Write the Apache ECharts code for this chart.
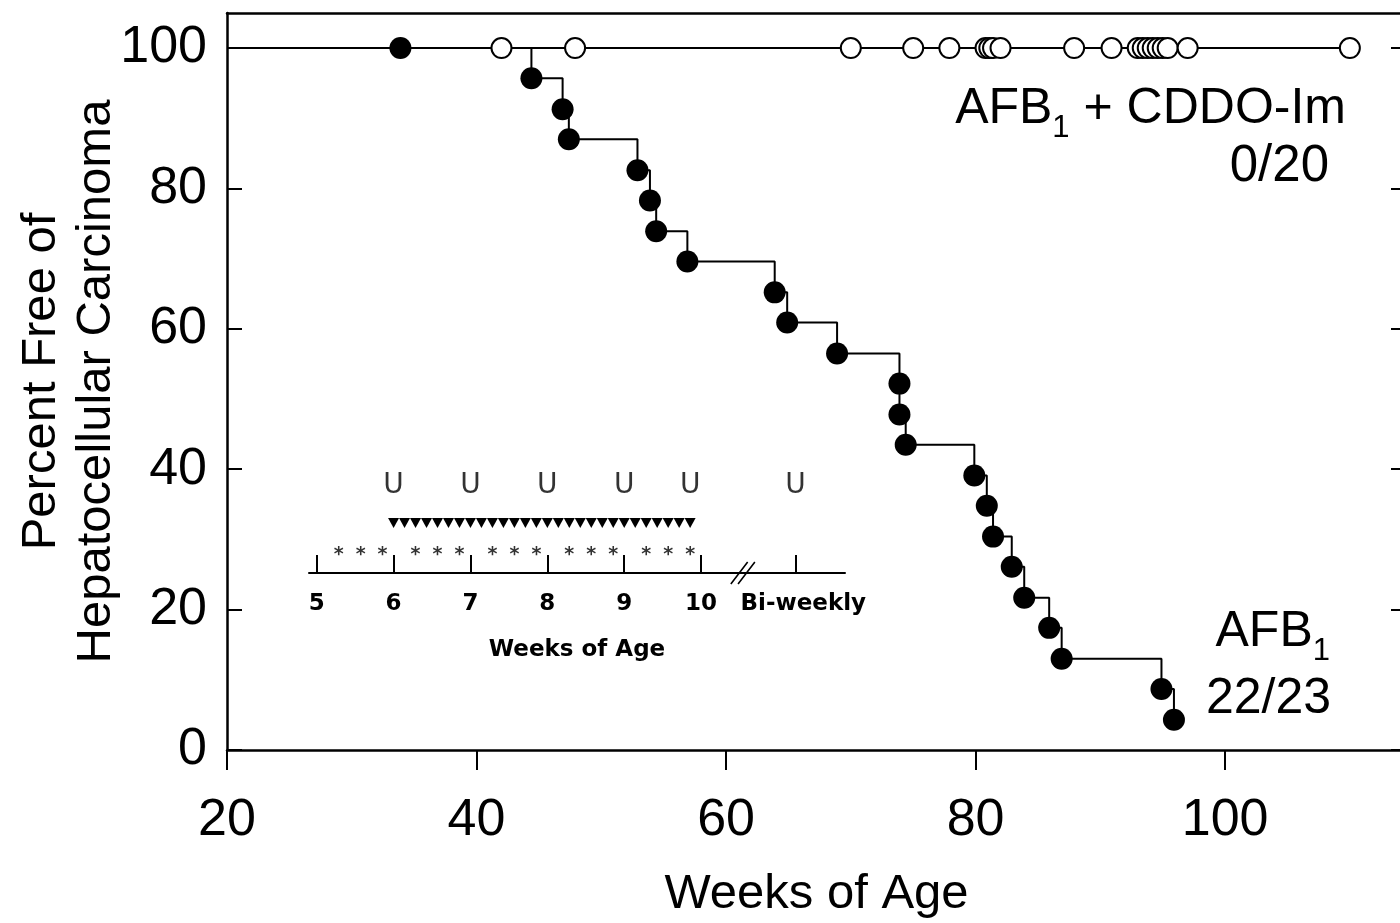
<!DOCTYPE html>
<html>
<head>
<meta charset="utf-8">
<title>Percent Free of Hepatocellular Carcinoma</title>
<script src="https://cdn.jsdelivr.net/npm/echarts@6/dist/echarts.min.js"></script>
<style>
  html, body { margin: 0; padding: 0; background: #fff; overflow: hidden; }
  /* the right frame edge sits just past the window edge */
  #chart { width: 1406px; height: 923px; }
</style>
</head>
<body>
<div id="chart"></div>
<script>
// ---- Kaplan–Meier data (weeks of age, percent tumour-free) ----
// AFB1 group: week of each carcinoma event and the survival level after it
const afbEventWeeks = [44.4, 46.9, 47.4, 52.9, 53.9, 54.4, 56.9, 63.9, 64.9, 68.9, 73.9,
                       73.9, 74.4, 79.9, 80.9, 81.4, 82.9, 83.9, 85.9, 86.9, 94.9, 95.9];
const afbPercentFree = [95.7, 91.3, 87.0, 82.6, 78.3, 73.9, 69.6, 65.2, 60.9, 56.5, 52.2,
                        47.8, 43.5, 39.1, 34.8, 30.4, 26.1, 21.7, 17.4, 13.0, 8.7, 4.3];
// AFB1 animal removed without carcinoma
const afbCensoredWeeks = [33.9];
// AFB1 + CDDO-Im group: all animals censored tumour-free
const cddoCensoredWeeks = [42.0, 47.9, 70.0, 75.0, 77.9, 80.8, 81.1, 81.4, 82.0, 87.9, 90.9,
                           93.0, 93.4, 93.8, 94.2, 94.6, 95.0, 95.4, 97.0, 110.0];
const percentStart = 100;

// Main axes
const weekTicks = [20, 40, 60, 80, 100];
const percentTicks = [0, 20, 40, 60, 80, 100];
const weekMin = 20, weekMax = 114.5;
const percentMin = 0, percentMax = 105;

// ---- Treatment schedule (inset), positions in days of age ----
const scheduleTickDays = [35, 42, 49, 56, 63, 70, 78.6];
const scheduleLabelDays = [35, 42, 49, 56, 63, 70, 79.3];
const scheduleLabels = ['5', '6', '7', '8', '9', '10', 'Bi-weekly'];
const asteriskDays = [37, 39, 41, 44, 46, 48, 51, 53, 55, 58, 60, 62, 65, 67, 69];
const triangleDays = [42, 43, 44, 45, 46, 47, 48, 49, 50, 51, 52, 53, 54, 55,
                      56, 57, 58, 59, 60, 61, 62, 63, 64, 65, 66, 67, 68, 69];
const uDays = [42, 49, 56, 63, 69, 78.6];
const breakDays = [73.8];
const scheduleMin = 34.3, scheduleMax = 83.1;

// ---- derived series data ----
const afbSteps = [[weekMin, percentStart]].concat(afbEventWeeks.map((w, i) => [w, afbPercentFree[i]]));
const afbMarks = afbCensoredWeeks.map(w => [w, percentStart])
  .concat(afbEventWeeks.map((w, i) => [w, afbPercentFree[i]]));
const cddoLine = [[weekMin, percentStart], [Math.max(...cddoCensoredWeeks), percentStart]];
const cddoMarks = cddoCensoredWeeks.map(w => [w, percentStart]);

const FONT = "'Liberation Sans', Arial, Helvetica, sans-serif";
const INSET_FONT = "'DejaVu Sans', Verdana, Tahoma, sans-serif";
const INK = '#000';

const chart = echarts.init(document.getElementById('chart'));

function onTimeline(days) { return days.map(d => [d, 0]); }
function textMarks(name, days, text, offsetY, style) {
  return {
    type: 'scatter', name, xAxisIndex: 2, yAxisIndex: 2, silent: true,
    data: onTimeline(days), symbol: 'circle', symbolSize: 1,
    itemStyle: { color: 'rgba(0,0,0,0)' },
    label: Object.assign({ show: true, formatter: text, position: 'inside',
      offset: [0, offsetY], color: INK, fontFamily: INSET_FONT }, style),
    emphasis: { disabled: true }
  };
}

// group label with a lowered subscript "1"
function groupLabel(x, y, before, after) {
  return {
    type: 'text', x, y, silent: true,
    style: {
      text: '{m|' + before + '}{s|1}' + (after ? '{m|' + after + '}' : ''),
      align: 'right', verticalAlign: 'middle',
      rich: {
        m: { fontFamily: FONT, fontSize: 50, lineHeight: 50, verticalAlign: 'top', fill: INK },
        s: { fontFamily: FONT, fontSize: 31, lineHeight: 88, verticalAlign: 'middle', fill: INK }
      }
    }
  };
}

chart.setOption({
  animation: false,
  backgroundColor: '#fff',
  grid: [
    { left: 227, right: 0, top: 13, bottom: 173, outerBoundsMode: 'none', containLabel: false },
    { left: 309, width: 536, top: 470, height: 103, outerBoundsMode: 'none', containLabel: false }
  ],
  xAxis: [
    {
      type: 'value', gridIndex: 0, position: 'bottom',
      min: weekMin, max: weekMax, interval: 20,
      name: 'Weeks of Age', nameLocation: 'middle', nameGap: 120, nameMoveOverlap: false,
      nameTextStyle: { fontFamily: FONT, fontSize: 49, color: INK, lineHeight: 49 },
      axisLine: { show: true, onZero: false, lineStyle: { color: INK, width: 2.5 } },
      axisTick: { show: true, inside: false, length: 20, customValues: weekTicks,
                  lineStyle: { color: INK, width: 2 } },
      axisLabel: { customValues: weekTicks, margin: 45, fontFamily: FONT, fontSize: 52,
                   color: INK, lineHeight: 52,
                   formatter: v => weekTicks.indexOf(v) >= 0 ? String(v) : '' },
      splitLine: { show: false }
    },
    {
      type: 'value', gridIndex: 0, position: 'top',
      min: weekMin, max: weekMax,
      axisLine: { show: true, onZero: false, lineStyle: { color: INK, width: 2.5 } },
      axisTick: { show: false }, axisLabel: { show: false }, splitLine: { show: false }
    },
    {
      type: 'value', gridIndex: 1, position: 'bottom',
      min: scheduleMin, max: scheduleMax,
      name: 'Weeks of Age', nameLocation: 'middle', nameGap: 66, nameMoveOverlap: false,
      nameTextStyle: { fontFamily: INSET_FONT, fontWeight: 'bold', fontSize: 23, color: INK },
      axisLine: { show: true, onZero: false, lineStyle: { color: INK, width: 2 } },
      axisTick: { show: true, inside: true, length: 18, customValues: scheduleTickDays,
                  lineStyle: { color: INK, width: 2 } },
      axisLabel: { customValues: scheduleLabelDays, margin: 20, fontFamily: INSET_FONT,
                   fontWeight: 'bold', fontSize: 23, color: INK,
                   formatter: v => { const i = scheduleLabelDays.indexOf(v); return i >= 0 ? scheduleLabels[i] : ''; } },
      splitLine: { show: false }
    }
  ],
  yAxis: [
    {
      type: 'value', gridIndex: 0, position: 'left',
      min: percentMin, max: percentMax, interval: 20,
      name: 'Percent Free of\nHepatocellular Carcinoma', nameLocation: 'middle', nameGap: 103,
      nameRotate: 90, nameMoveOverlap: false,
      nameTextStyle: { fontFamily: FONT, fontSize: 49, color: INK, lineHeight: 55 },
      axisLine: { show: true, onZero: false, lineStyle: { color: INK, width: 2.5 } },
      axisTick: { show: true, inside: true, length: 15, customValues: percentTicks,
                  lineStyle: { color: INK, width: 2 } },
      axisLabel: { customValues: percentTicks, margin: 20, fontFamily: FONT, fontSize: 52,
                   color: INK, formatter: v => percentTicks.indexOf(v) >= 0 ? String(v) : '' },
      splitLine: { show: false }
    },
    {
      type: 'value', gridIndex: 0, position: 'right',
      min: percentMin, max: percentMax, interval: 20,
      axisLine: { show: true, onZero: false, lineStyle: { color: INK, width: 2.5 } },
      axisTick: { show: true, inside: true, length: 15, customValues: percentTicks,
                  lineStyle: { color: INK, width: 2 } },
      axisLabel: { show: false }, splitLine: { show: false }
    },
    { type: 'value', gridIndex: 1, min: 0, max: 1, show: false }
  ],
  series: [
    {
      type: 'line', name: 'AFB1 + CDDO-Im', xAxisIndex: 0, yAxisIndex: 0,
      data: cddoLine, showSymbol: false, silent: true,
      lineStyle: { color: INK, width: 2 }, z: 2
    },
    {
      type: 'line', name: 'AFB1', xAxisIndex: 0, yAxisIndex: 0,
      data: afbSteps, step: 'end', showSymbol: false, silent: true,
      lineStyle: { color: INK, width: 2 }, z: 2
    },
    {
      type: 'scatter', name: 'AFB1 + CDDO-Im censored', xAxisIndex: 0, yAxisIndex: 0,
      data: cddoMarks, symbol: 'circle', symbolSize: 20, silent: true,
      itemStyle: { color: '#fff', borderColor: INK, borderWidth: 2, opacity: 1 }, z: 3
    },
    {
      type: 'scatter', name: 'AFB1 events', xAxisIndex: 0, yAxisIndex: 0,
      data: afbMarks, symbol: 'circle', symbolSize: 22, silent: true,
      itemStyle: { color: INK, opacity: 1 }, z: 4
    },
    // treatment schedule inset
    {
      type: 'scatter', name: 'daily dosing', xAxisIndex: 2, yAxisIndex: 2,
      data: onTimeline(triangleDays), symbol: 'triangle', symbolRotate: 180,
      symbolSize: [11, 10], symbolOffset: [0, -50], silent: true,
      itemStyle: { color: INK, opacity: 1 }
    },
    textMarks('three times weekly', asteriskDays, '*', -18, { fontSize: 19, fontWeight: 'bold' }),
    textMarks('urine collection', uDays, 'U', -87, { fontSize: 28 }),
    {
      type: 'scatter', name: 'axis break', xAxisIndex: 2, yAxisIndex: 2,
      data: onTimeline(breakDays), symbol: 'path://M0,22 L14,0 M6,22 L20,0',
      symbolSize: [24, 22], silent: true,
      itemStyle: { color: 'rgba(0,0,0,0)', borderColor: INK, borderWidth: 1.5, opacity: 1 }
    }
  ],
  graphic: [
    groupLabel(1346, 128, 'AFB', ' + CDDO-Im'),
    {
      type: 'text', x: 1329, y: 167, silent: true,
      style: { text: '0/20', align: 'right', verticalAlign: 'middle',
               font: '51px ' + FONT, fill: INK }
    },
    groupLabel(1330, 651, 'AFB', ''),
    {
      type: 'text', x: 1331, y: 699, silent: true,
      style: { text: '22/23', align: 'right', verticalAlign: 'middle',
               font: '50px ' + FONT, fill: INK }
    }
  ]
});
</script>
</body>
</html>
